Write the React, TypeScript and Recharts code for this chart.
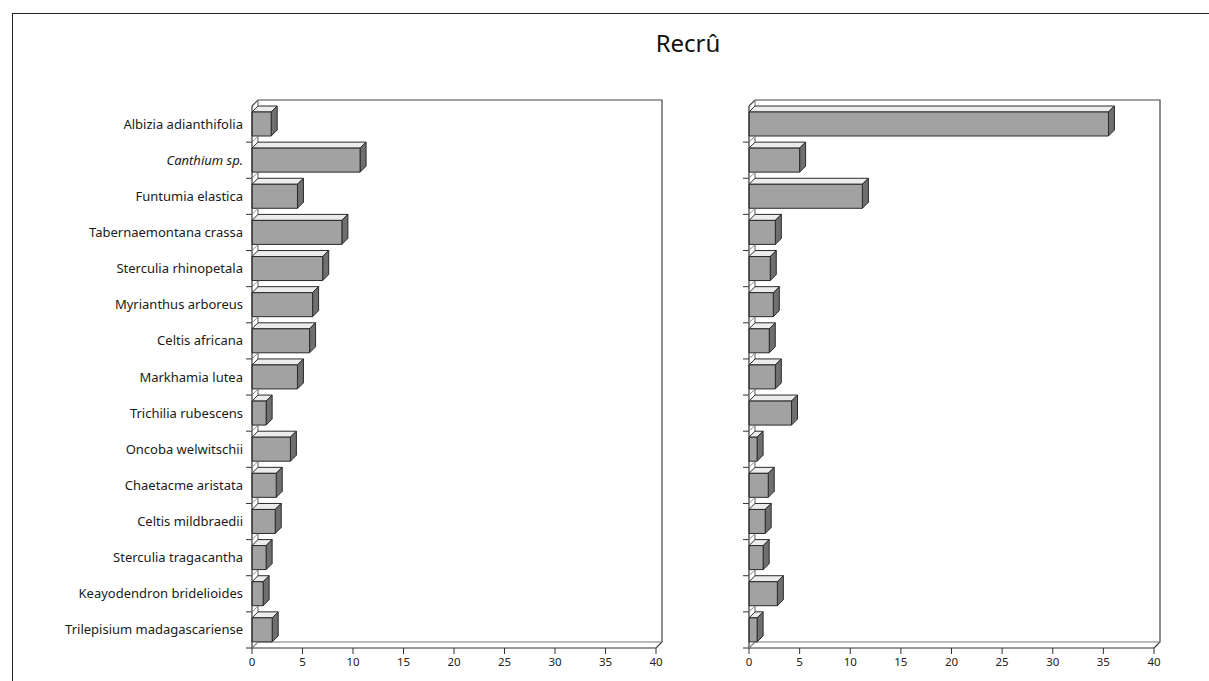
import { Bar, BarChart, XAxis, YAxis, usePlotArea } from "recharts";

const species = [
  "Albizia adianthifolia",
  "Canthium sp.",
  "Funtumia elastica",
  "Tabernaemontana crassa",
  "Sterculia rhinopetala",
  "Myrianthus arboreus",
  "Celtis africana",
  "Markhamia lutea",
  "Trichilia rubescens",
  "Oncoba welwitschii",
  "Chaetacme aristata",
  "Celtis mildbraedii",
  "Sterculia tragacantha",
  "Keayodendron bridelioides",
  "Trilepisium madagascariense",
];

const leftValues = [1.9, 10.7, 4.5, 8.9, 7.0, 6.0, 5.7, 4.5, 1.4, 3.8, 2.4, 2.3, 1.4, 1.1, 2.0];
const rightValues = [35.5, 5.0, 11.2, 2.6, 2.1, 2.4, 2.0, 2.6, 4.2, 0.8, 1.9, 1.6, 1.4, 2.8, 0.8];
const xTicks = [0, 5, 10, 15, 20, 25, 30, 35, 40];

const leftData = species.map((name, i) => ({ name, value: leftValues[i] }));
const rightData = species.map((name, i) => ({ name, value: rightValues[i] }));

const DEPTH = 6;
const PLOT_TOP = 106;
const PLOT_BOTTOM = 648;
const BAND = (PLOT_BOTTOM - PLOT_TOP) / species.length;
const FONT = "'Noto Sans', 'Open Sans', sans-serif";

// 3D-looking box bar: front face, top face, right side face
function Box3D(props: any) {
  const { x, y, width, height } = props;
  if (width == null || height == null) return null;
  const d = DEPTH;
  return (
    <g stroke="#2a2a2a" strokeWidth={1} strokeLinejoin="round">
      <polygon
        points={`${x},${y} ${x + d},${y - d} ${x + width + d},${y - d} ${x + width},${y}`}
        fill="#ececec"
      />
      <polygon
        points={`${x + width},${y} ${x + width + d},${y - d} ${x + width + d},${y + height - d} ${x + width},${y + height}`}
        fill="#6f6f6f"
      />
      <rect x={x} y={y} width={width} height={height} fill="#a2a2a2" />
    </g>
  );
}

// back walls + floor of the 3D frame
function Walls() {
  const p = usePlotArea();
  if (!p) return null;
  const { x, y, width: w, height: h } = p;
  const d = DEPTH;
  return (
    <g fill="none" strokeWidth={1.2}>
      <polyline
        points={`${x},${y} ${x + d},${y - d} ${x + w + d},${y - d} ${x + w + d},${y + h - d} ${x + w},${y + h}`}
        stroke="#444"
      />
      <polyline points={`${x + d},${y - d} ${x + d},${y + h - d} ${x + w + d},${y + h - d}`} stroke="#777" />
      <line x1={x} y1={y + h} x2={x + d} y2={y + h - d} stroke="#777" />
    </g>
  );
}

function CategoryTick(props: any) {
  const { x, y, payload, showLabel } = props;
  const ax = x + 8;
  const ty = y + BAND / 2;
  const label = payload.value as string;
  return (
    <g>
      {showLabel && (
        <text
          x={x - 1}
          y={y}
          dy="0.35em"
          textAnchor="end"
          fontFamily={FONT}
          fontSize={13}
          fontStyle={label === "Canthium sp." ? "italic" : "normal"}
          fill="#1a1a1a"
        >
          {label}
        </text>
      )}
      <line x1={ax - 6} y1={ty} x2={ax} y2={ty} stroke="#333" strokeWidth={1} />
      <line x1={ax} y1={ty} x2={ax + DEPTH} y2={ty - DEPTH} stroke="#888" strokeWidth={1} />
    </g>
  );
}

function Panel({
  data,
  width,
  yWidth,
  right,
  showLabels,
}: {
  data: { name: string; value: number }[];
  width: number;
  yWidth: number;
  right: number;
  showLabels: boolean;
}) {
  return (
    <BarChart
      width={width}
      height={681}
      data={data}
      layout="vertical"
      barCategoryGap={0}
      margin={{ top: PLOT_TOP, right, bottom: 681 - PLOT_BOTTOM - 30, left: 0 }}
    >
      <Walls />
      <XAxis
        type="number"
        domain={[0, 40]}
        ticks={xTicks}
        height={30}
        tickSize={6}
        tickMargin={4}
        axisLine={{ stroke: "#333", strokeWidth: 1.2 }}
        tickLine={{ stroke: "#333" }}
        tick={{ fontSize: 11.5, fill: "#222", fontFamily: FONT }}
        interval={0}
      />
      <YAxis
        type="category"
        dataKey="name"
        width={yWidth}
        tickSize={0}
        tickMargin={8}
        axisLine={{ stroke: "#333", strokeWidth: 1.2 }}
        interval={0}
        tick={<CategoryTick showLabel={showLabels} />}
      />
      <Bar dataKey="value" barSize={24} shape={<Box3D />} isAnimationActive={false} />
    </BarChart>
  );
}

export default function App() {
  return (
    <div
      style={{
        position: "absolute",
        left: 0,
        top: 0,
        width: 1209,
        height: 681,
        overflow: "hidden",
        background: "#fff",
        fontFamily: FONT,
      }}
    >
      <div
        style={{
          position: "absolute",
          left: 12,
          top: 13,
          width: 1300,
          height: 800,
          borderTop: "1.5px solid #222",
          borderLeft: "1.5px solid #222",
        }}
      />
      <div
        style={{
          position: "absolute",
          left: 618,
          top: 26,
          width: 140,
          textAlign: "center",
          fontSize: 24,
          color: "#111",
        }}
      >
        Recrû
      </div>
      <div style={{ position: "absolute", left: 0, top: 0 }}>
        <Panel data={leftData} width={680} yWidth={252} right={24} showLabels />
      </div>
      <div style={{ position: "absolute", left: 700, top: 0 }}>
        <Panel data={rightData} width={480} yWidth={49} right={26} showLabels={false} />
      </div>
    </div>
  );
}
